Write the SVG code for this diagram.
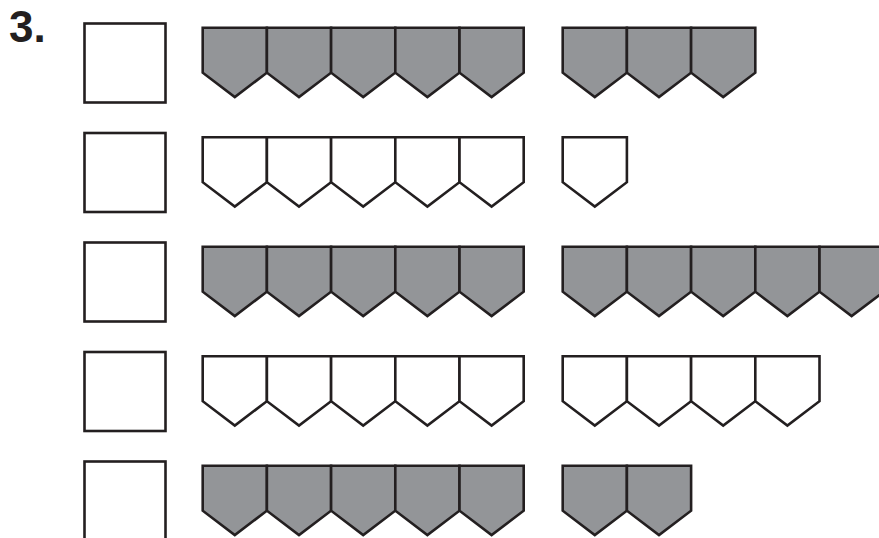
<svg xmlns="http://www.w3.org/2000/svg" xmlns:xlink="http://www.w3.org/1999/xlink" width="879" height="538" viewBox="0 0 879 538">
<style>
.box{fill:#fff;stroke:#231f20;stroke-width:2.6}
.g{fill:#939598;stroke:#231f20;stroke-width:2.6;stroke-linejoin:miter}
.w{fill:#fff;stroke:#231f20;stroke-width:2.6;stroke-linejoin:miter}
.num{font-family:"Liberation Sans",Arial,sans-serif;font-weight:bold;font-size:44px;fill:#231f20}
</style>
<defs>
<path id="p" d="M0,0 H64.2 V45 L32.1,69.4 L0,45 Z"/>
</defs>
<rect width="879" height="538" fill="#fff"/>
<text class="num" x="9" y="42">3.</text>
<g id="row1">
<rect class="box" x="84.5" y="23.5" width="81" height="79"/>
<g class="g" transform="translate(202.7,27.7)">
<use xlink:href="#p" x="0"/><use xlink:href="#p" x="64.2"/><use xlink:href="#p" x="128.4"/><use xlink:href="#p" x="192.6"/><use xlink:href="#p" x="256.8"/>
</g>
<g class="g" transform="translate(562.7,27.7)">
<use xlink:href="#p" x="0"/><use xlink:href="#p" x="64.2"/><use xlink:href="#p" x="128.4"/>
</g>
</g>
<g id="row2">
<rect class="box" x="84.5" y="133" width="81" height="79"/>
<g class="w" transform="translate(202.7,137.2)">
<use xlink:href="#p" x="0"/><use xlink:href="#p" x="64.2"/><use xlink:href="#p" x="128.4"/><use xlink:href="#p" x="192.6"/><use xlink:href="#p" x="256.8"/>
</g>
<g class="w" transform="translate(562.7,137.2)">
<use xlink:href="#p" x="0"/>
</g>
</g>
<g id="row3">
<rect class="box" x="84.5" y="242.5" width="81" height="79"/>
<g class="g" transform="translate(202.7,246.7)">
<use xlink:href="#p" x="0"/><use xlink:href="#p" x="64.2"/><use xlink:href="#p" x="128.4"/><use xlink:href="#p" x="192.6"/><use xlink:href="#p" x="256.8"/>
</g>
<g class="g" transform="translate(562.7,246.7)">
<use xlink:href="#p" x="0"/><use xlink:href="#p" x="64.2"/><use xlink:href="#p" x="128.4"/><use xlink:href="#p" x="192.6"/><use xlink:href="#p" x="256.8"/>
</g>
</g>
<g id="row4">
<rect class="box" x="84.5" y="352" width="81" height="79"/>
<g class="w" transform="translate(202.7,356.2)">
<use xlink:href="#p" x="0"/><use xlink:href="#p" x="64.2"/><use xlink:href="#p" x="128.4"/><use xlink:href="#p" x="192.6"/><use xlink:href="#p" x="256.8"/>
</g>
<g class="w" transform="translate(562.7,356.2)">
<use xlink:href="#p" x="0"/><use xlink:href="#p" x="64.2"/><use xlink:href="#p" x="128.4"/><use xlink:href="#p" x="192.6"/>
</g>
</g>
<g id="row5">
<rect class="box" x="84.5" y="461.5" width="81" height="79"/>
<g class="g" transform="translate(202.7,465.7)">
<use xlink:href="#p" x="0"/><use xlink:href="#p" x="64.2"/><use xlink:href="#p" x="128.4"/><use xlink:href="#p" x="192.6"/><use xlink:href="#p" x="256.8"/>
</g>
<g class="g" transform="translate(562.7,465.7)">
<use xlink:href="#p" x="0"/><use xlink:href="#p" x="64.2"/>
</g>
</g>
<g id="connectors"/>
</svg>
